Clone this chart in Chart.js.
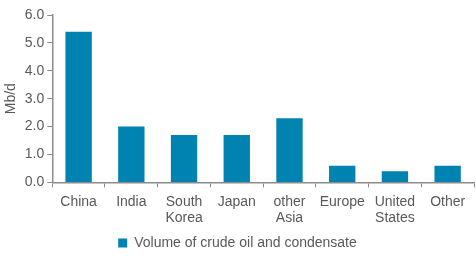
<!DOCTYPE html>
<html lang="en">
<head>
    <meta charset="UTF-8">
    <title>Crude oil and condensate volume</title>
    <script src="https://cdn.jsdelivr.net/npm/chart.js"></script>
    <style>
        body { margin: 0; background: #fff; }
        #wrap { width: 476px; height: 260px; }
    </style>
</head>
<body>
    <div id="wrap"><canvas id="volChart"></canvas></div>
    <script>
        const categories = ["China", "India", ["South", "Korea"], "Japan", ["other", "Asia"], "Europe", ["United", "States"], "Other"];
        const volume = [5.4, 2.0, 1.7, 1.7, 2.3, 0.6, 0.4, 0.6];
        const yTicks = ["0.0", "1.0", "2.0", "3.0", "4.0", "5.0", "6.0"];

        const axisGrey = "#8c8c8c";
        const textGrey = "#595959";
        Chart.defaults.font.family = "'Liberation Sans', Arial, sans-serif";
        Chart.defaults.font.size = 14;
        Chart.defaults.color = textGrey;

        new Chart(document.getElementById("volChart"), {
            type: "bar",
            data: {
                labels: categories,
                datasets: [{
                    label: "Volume of crude oil and condensate",
                    data: volume,
                    backgroundColor: "#0083b0",
                    barPercentage: 0.5,
                    categoryPercentage: 1.0
                }]
            },
            options: {
                responsive: true,
                maintainAspectRatio: false,
                animation: false,
                layout: { padding: { top: 15, right: 2, left: 1, bottom: 0 } },
                plugins: {
                    legend: {
                        position: "bottom",
                        labels: { boxWidth: 9, boxHeight: 9, padding: 3, color: textGrey }
                    },
                    tooltip: { enabled: false }
                },
                scales: {
                    x: {
                        grid: { drawOnChartArea: false, drawTicks: true, tickLength: 5, color: axisGrey, offset: true },
                        border: { color: axisGrey, width: 1.5 },
                        ticks: { maxRotation: 0, autoSkip: false, padding: 6, color: textGrey }
                    },
                    y: {
                        min: 0,
                        max: 6,
                        title: { display: true, text: "Mb/d", color: textGrey, padding: 2 },
                        grid: { drawOnChartArea: false, drawTicks: true, tickLength: 5, color: axisGrey },
                        border: { color: axisGrey, width: 1.5 },
                        ticks: {
                            stepSize: 1,
                            padding: 3,
                            color: textGrey,
                            callback: (v) => yTicks[v]
                        }
                    }
                }
            }
        });
    </script>
</body>
</html>
